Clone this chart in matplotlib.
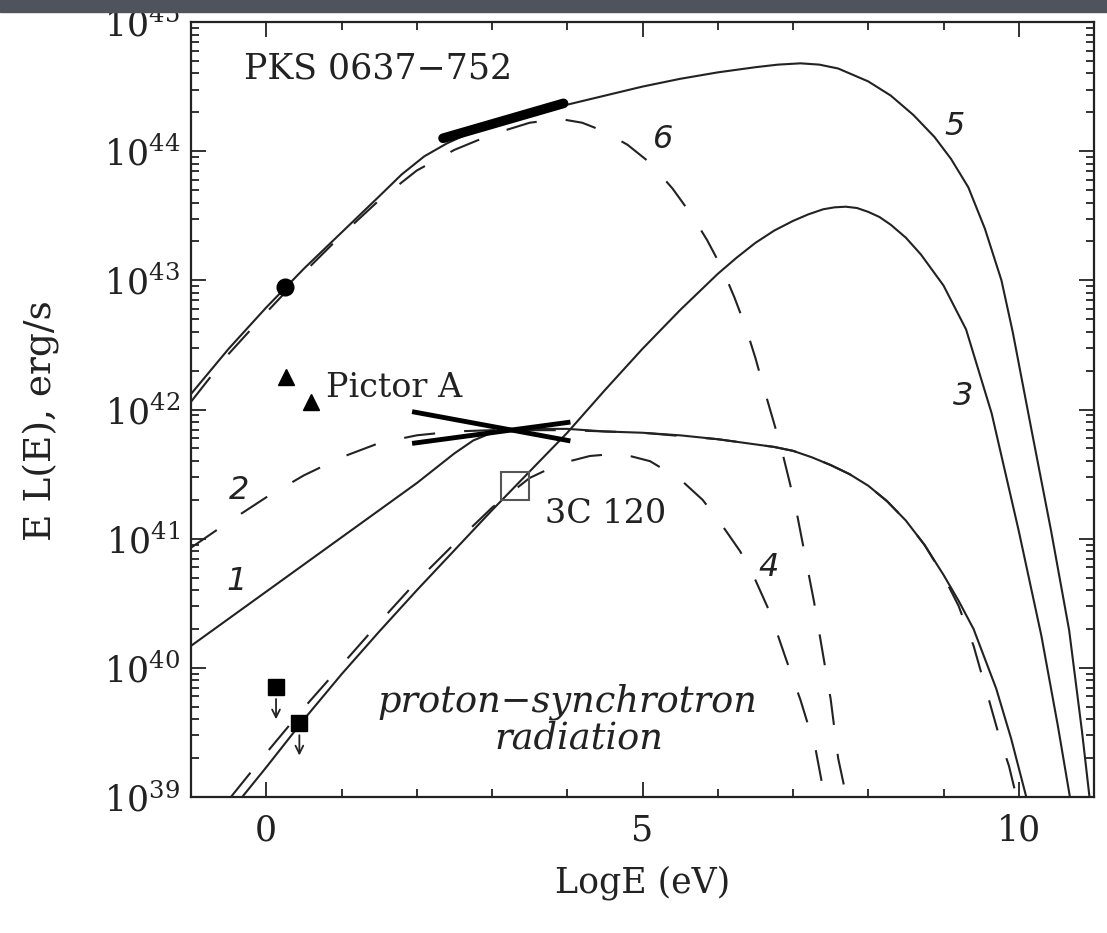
import matplotlib
matplotlib.use('Agg')
import matplotlib.pyplot as plt
import numpy as np
from matplotlib.ticker import MultipleLocator, FixedLocator, NullFormatter
from matplotlib.patches import Rectangle

plt.rcParams['font.family'] = 'DejaVu Serif'
plt.rcParams['mathtext.fontset'] = 'dejavuserif'

# log10 E [eV] vs log10 E L(E) [erg/s]
x1 = [-1.0, -0.5, 0.0, 0.5, 1.0, 1.5, 2.0, 2.5, 2.75, 3.0, 3.5, 4.0, 4.5, 5.0, 5.5,
      6.0, 6.5, 6.75, 7.0, 7.25, 7.5, 7.75, 8.0, 8.25, 8.5, 8.75, 9.0, 9.2, 9.4,
      9.7, 9.9, 10.1]
y1 = [40.17, 40.38, 40.59, 40.80, 41.01, 41.22, 41.43, 41.66, 41.76, 41.82, 41.85,
      41.85, 41.83, 41.82, 41.80, 41.77, 41.73, 41.71, 41.68, 41.63, 41.57, 41.50,
      41.41, 41.29, 41.14, 40.95, 40.72, 40.52, 40.30, 39.84, 39.45, 39.0]

x2 = [-1.0, -0.5, 0.0, 0.5, 1.0, 1.5, 2.0, 2.5, 3.0, 3.5, 4.0, 5.0, 6.0, 6.75, 7.0,
      7.25, 7.5, 7.75, 8.0, 8.25, 8.5, 8.75, 9.0, 9.2, 9.4, 9.6, 9.75, 9.87, 9.97]
y2 = [40.93, 41.13, 41.32, 41.49, 41.63, 41.74, 41.80, 41.83, 41.84, 41.84, 41.84,
      41.82, 41.77, 41.71, 41.68, 41.63, 41.57, 41.50, 41.41, 41.29, 41.14, 40.95,
      40.71, 40.48, 40.17, 39.76, 39.45, 39.24, 39.0]

x3 = [-0.32, 0.0, 0.5, 1.0, 1.5, 2.0, 2.5, 3.0, 3.5, 4.0, 4.5, 5.0, 5.5, 6.0, 6.25,
      6.5, 6.75, 7.0, 7.2, 7.4, 7.55, 7.7, 7.85, 8.0, 8.15, 8.3, 8.5, 8.7, 9.0,
      9.3, 9.64, 10.0, 10.3, 10.52, 10.68]
y3 = [39.0, 39.23, 39.6, 39.95, 40.28, 40.6, 40.91, 41.22, 41.52, 41.82, 42.15,
      42.47, 42.77, 43.05, 43.175, 43.29, 43.385, 43.46, 43.51, 43.55, 43.565,
      43.57, 43.56, 43.53, 43.49, 43.43, 43.33, 43.2, 42.96, 42.62, 41.97, 41.06,
      40.25, 39.55, 39.0]

x4 = [-0.47, 0.0, 0.5, 1.0, 1.5, 2.0, 2.5, 3.0, 3.5, 3.9, 4.3, 4.7, 5.1, 5.5, 5.8,
      6.05, 6.3, 6.5, 6.7, 6.9, 7.1, 7.3, 7.42]
y4 = [39.0, 39.34, 39.69, 40.02, 40.35, 40.67, 40.96, 41.24, 41.47, 41.58, 41.64,
      41.66, 41.60, 41.46, 41.30, 41.11, 40.90, 40.68, 40.42, 40.08, 39.75, 39.37, 39.0]

x5 = [-1.0, -0.5, 0.0, 0.5, 1.0, 1.5, 1.8, 2.1, 2.4, 2.7, 3.0, 3.5, 4.0, 4.5, 5.0,
      5.5, 6.0, 6.5, 6.8, 7.1, 7.35, 7.6, 8.0, 8.3, 8.6, 8.88, 9.1, 9.33, 9.55,
      9.77, 9.92, 10.17, 10.43, 10.67, 10.84, 10.94]
y5 = [42.12, 42.47, 42.79, 43.09, 43.37, 43.65, 43.82, 43.96, 44.06, 44.14, 44.20,
      44.28, 44.36, 44.43, 44.50, 44.56, 44.61, 44.65, 44.67, 44.68, 44.67, 44.64,
      44.54, 44.43, 44.28, 44.11, 43.94, 43.72, 43.40, 43.0, 42.60, 41.84, 41.06,
      40.29, 39.51, 39.0]

x6 = [-1.0, -0.5, 0.0, 0.5, 1.0, 1.5, 2.0, 2.5, 3.0, 3.5, 3.9, 4.2, 4.46, 4.8,
      5.1, 5.4, 5.66, 5.86, 6.06, 6.22, 6.37, 6.5, 6.61, 6.73, 6.84, 6.95, 7.04,
      7.12, 7.2, 7.28, 7.35, 7.42, 7.5, 7.6, 7.71]
y6 = [42.06, 42.43, 42.75, 43.06, 43.35, 43.62, 43.85, 44.01, 44.13, 44.22, 44.25,
      44.22, 44.16, 44.05, 43.91, 43.71, 43.5, 43.31, 43.09, 42.87, 42.64, 42.40,
      42.17, 41.93, 41.71, 41.45, 41.23, 40.99, 40.75, 40.51, 40.27, 40.03, 39.76,
      39.3, 39.0]

# PKS 0637-752 data
bar_x = [2.35, 3.95]
bar_y = [44.10, 44.37]
dot_x = [0.25]
dot_y = [42.95]

# Pictor A
tri_x = [0.26, 0.6]
tri_y = [42.25, 42.06]
bow_a_x = [1.97, 4.01]
bow_a_y = [41.98, 41.76]
bow_b_x = [1.97, 4.01]
bow_b_y = [41.74, 41.90]

# upper limits
ul_x = [0.13, 0.44]
ul_y = [39.85, 39.57]

# 3C 120
c120_x = [3.31]
c120_y = [41.41]

curve_labels = ['1', '2', '3', '4', '5', '6']
label_x = [-0.39, -0.36, 9.26, 6.67, 9.15, 5.28]
label_y = [40.67, 41.37, 42.10, 40.78, 44.19, 44.09]

ytick_exp = [39, 40, 41, 42, 43, 44, 45]


def L(v):
    return 10 ** np.asarray(v, dtype=float)


ink = '#222222'
dash = (0, (15, 14))

fig = plt.figure(figsize=(11.07, 9.33), dpi=100)
ax = fig.add_axes([191 / 1107, 1 - 797 / 933, 903 / 1107, 775 / 933])
ax.set_yscale('log')

for xs, ys in [(x1, y1), (x3, y3), (x5, y5)]:
    ax.plot(xs, L(ys), color=ink, lw=1.5)
for xs, ys in [(x2, y2), (x4, y4), (x6, y6)]:
    ax.plot(xs, L(ys), color=ink, lw=1.5, linestyle=dash)

ax.plot(bar_x, L(bar_y), color='black', lw=7, solid_capstyle='round')
ax.plot(dot_x, L(dot_y), 'o', color='black', ms=12)
ax.plot(tri_x, L(tri_y), '^', color='black', ms=12)
ax.plot(bow_a_x, L(bow_a_y), color='black', lw=3.5)
ax.plot(bow_b_x, L(bow_b_y), color='black', lw=3.5)
ax.plot(ul_x, L(ul_y), 's', color='black', ms=12)
for ux, uy in zip(ul_x, ul_y):
    ax.annotate('', xy=(ux, 10 ** (uy - 0.27)), xytext=(ux, 10 ** (uy - 0.07)),
                arrowprops=dict(arrowstyle='->', lw=1.3, color=ink, mutation_scale=14))
ax.plot(c120_x, L(c120_y), 's', mfc='none', mec='#555555', mew=1.5, ms=20)

for t, lx, ly in zip(curve_labels, label_x, label_y):
    ax.text(lx, 10 ** ly, t, fontsize=23, style='italic', family='DejaVu Sans',
            color=ink, ha='center', va='center')

ax.text(-0.29, 10 ** 44.64, 'PKS 0637\u2212752', fontsize=25, color=ink,
        ha='left', va='center')
ax.text(0.8, 10 ** 42.17, 'Pictor A', fontsize=24, color=ink, ha='left', va='center')
ax.text(3.71, 10 ** 41.19, '3C 120', fontsize=24, color=ink, ha='left', va='center')
ax.text(4.0, 10 ** 39.74, 'proton\u2212synchrotron', fontsize=26.5, style='italic',
        color=ink, ha='center', va='center')
ax.text(4.15, 10 ** 39.45, 'radiation', fontsize=26.5, style='italic',
        color=ink, ha='center', va='center')

ax.set_xlim(-1, 11)
ax.set_ylim(1e39, 1e45)
ax.xaxis.set_major_locator(MultipleLocator(5))
ax.xaxis.set_minor_locator(MultipleLocator(1))
ax.yaxis.set_major_locator(FixedLocator(L(ytick_exp)))
minor_y = [m * 10.0 ** e for e in ytick_exp[:-1] for m in range(2, 10)]
ax.yaxis.set_minor_locator(FixedLocator(minor_y))
ax.yaxis.set_minor_formatter(NullFormatter())
ax.set_yticklabels(['$10^{%d}$' % e for e in ytick_exp])
ax.tick_params(which='both', direction='in', top=True, right=True, color=ink,
               width=1.3)
ax.tick_params(which='major', length=11)
ax.tick_params(which='minor', length=6)
ax.tick_params(axis='x', labelsize=25, pad=12, labelcolor=ink)
ax.tick_params(axis='y', labelsize=25, pad=8, labelcolor=ink)
for s in ax.spines.values():
    s.set_linewidth(1.6)
    s.set_color(ink)

ax.set_xlabel('LogE (eV)', fontsize=25, color=ink)
ax.xaxis.set_label_coords(0.5, -0.088)
ax.set_ylabel('E L(E), erg/s', fontsize=27, color=ink)
ax.yaxis.set_label_coords(-0.145, 0.486)

# dark strip of the slide at the top
fig.add_artist(Rectangle((0, 1 - 12 / 933), 1, 12 / 933, transform=fig.transFigure,
                         color='#4e535d', zorder=10))

fig.savefig('out.png', dpi=100)
